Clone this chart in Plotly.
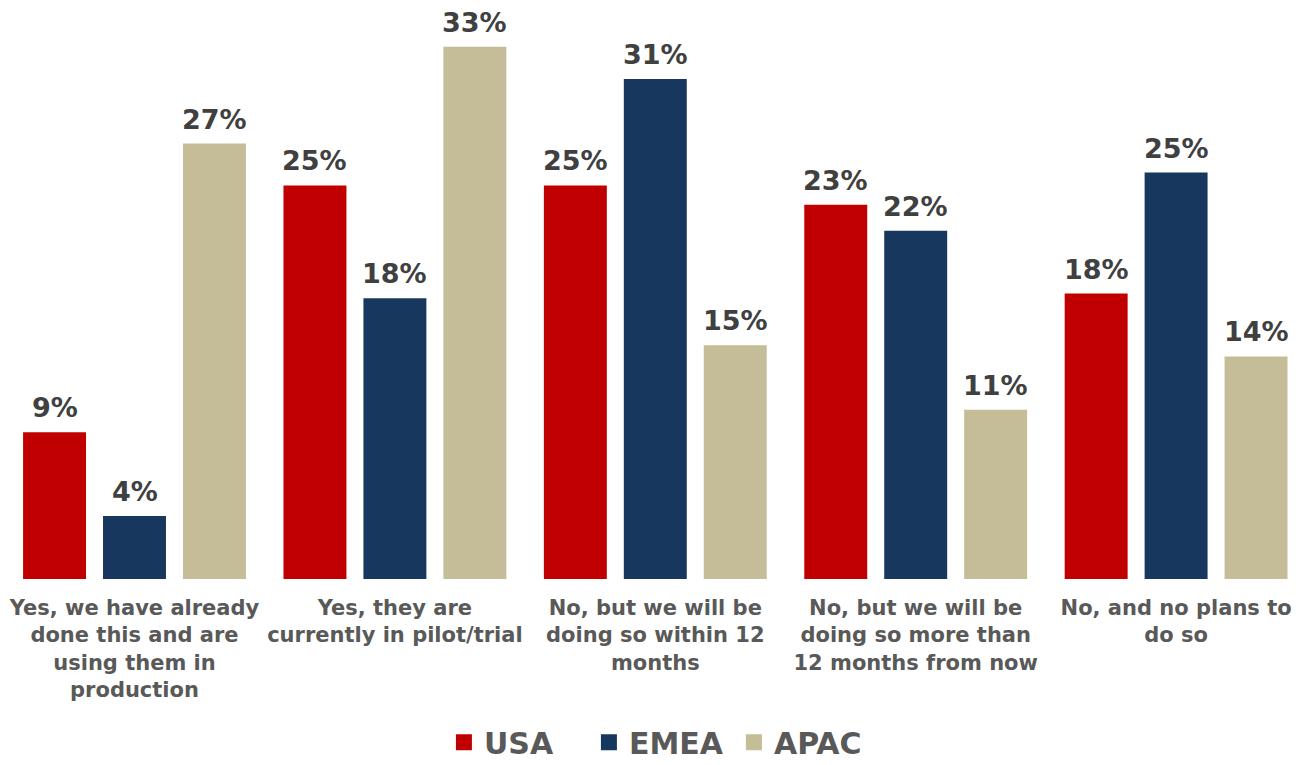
import plotly.graph_objects as go

categories = [
    "Yes, we have already<br>done this and are<br>using them in<br>production",
    "Yes, they are<br>currently in pilot/trial",
    "No, but we will be<br>doing so within 12<br>months",
    "No, but we will be<br>doing so more than<br>12 months from now",
    "No, and no plans to<br>do so",
]
series_names = ["USA", "EMEA", "APAC"]
usa = [9.1, 24.4, 24.4, 23.2, 17.7]
emea = [3.9, 17.4, 31.0, 21.6, 25.2]
apac = [27.0, 33.0, 14.5, 10.5, 13.8]
usa_labels = ["9%", "25%", "25%", "23%", "18%"]
emea_labels = ["4%", "18%", "31%", "22%", "25%"]
apac_labels = ["27%", "33%", "15%", "11%", "14%"]

colors = ["#C00000", "#17375E", "#C4BD97"]
FONT = "DejaVu Sans"
values = [usa, emea, apac]
labels = [usa_labels, emea_labels, apac_labels]

x = list(range(len(categories)))
fig = go.Figure()
for name, vals, col in zip(series_names, values, colors):
    fig.add_trace(go.Bar(x=x, y=vals, name=name, marker=dict(color=col, line=dict(width=0)),
                         showlegend=False, hoverinfo="skip"))
# legend proxies with larger square markers
for name, col in zip(series_names, colors):
    fig.add_trace(go.Scatter(x=[None], y=[None], mode="markers", name=name,
                             marker=dict(symbol="square", size=19, color=col)))

annotations = []
for si, (vals, labs) in enumerate(zip(values, labels)):
    for xi, (v, t) in enumerate(zip(vals, labs)):
        annotations.append(dict(x=xi, y=v, text=t, showarrow=False, xref="x", yref="y",
                                yanchor="bottom", xshift=(si - 1) * 80, yshift=7,
                                font=dict(family=FONT, size=27, color="#404040", weight="bold")))

fig.update_layout(
    width=1302, height=765,
    margin=dict(l=0, r=0, t=0, b=186, autoexpand=False),
    paper_bgcolor="white", plot_bgcolor="white",
    barmode="group", bargap=0.079, bargroupgap=0.2125,
    annotations=annotations,
    xaxis=dict(range=[-0.5165, 4.4835], tickvals=x, ticktext=categories, showgrid=False,
               zeroline=False, showline=False, ticks="", ticklabelstandoff=14, automargin=False,
               tickfont=dict(family=FONT, size=21, color="#595959", weight="bold")),
    yaxis=dict(range=[0, 35.9], visible=False, showgrid=False, automargin=False),
    legend=dict(orientation="h", x=0.508, xanchor="center", y=-0.327, yanchor="bottom",
                entrywidth=100, entrywidthmode="pixels",
                font=dict(family=FONT, size=30, color="#595959", weight="bold"),
                yref="paper"),
    showlegend=True,
)

fig.write_html("out.html")
